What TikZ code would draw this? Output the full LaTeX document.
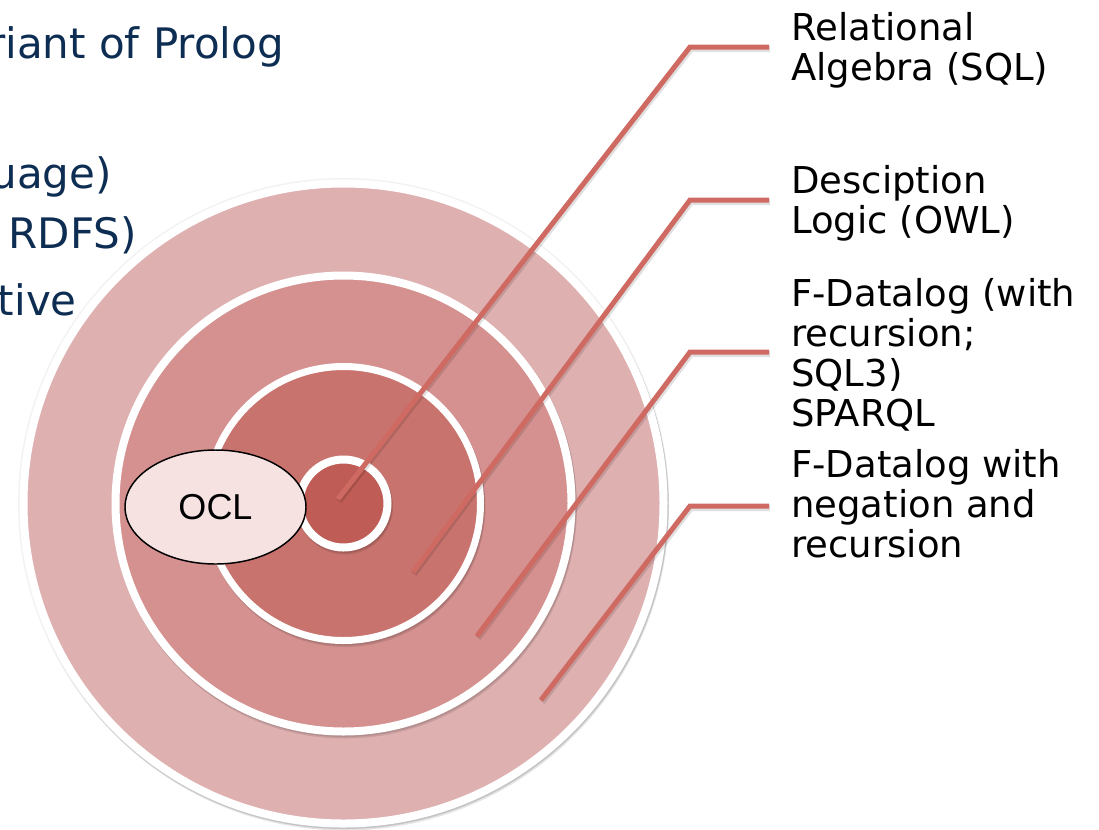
\documentclass[tikz,border=0pt]{standalone}
\usepackage{fontspec}
\setmainfont{DejaVu Sans}
\newfontfamily\arialf{Liberation Sans}
\definecolor{ringA}{HTML}{DFB0B0}
\definecolor{ringB}{HTML}{D4918F}
\definecolor{ringC}{HTML}{C9736E}
\definecolor{ringD}{HTML}{BF5C55}
\definecolor{leadc}{HTML}{CE6A62}
\definecolor{oclfill}{HTML}{F5E2E1}
\definecolor{navy}{HTML}{0E2D53}
\begin{document}
\begin{tikzpicture}[x=0.75pt,y=-0.75pt,
  ring/.style={draw=white, line width=6pt},
  ringshadow/.style={fill=black, fill opacity=0.10, draw=none},
  leader/.style={draw=leadc, line width=3.75pt},
  leadershadow/.style={draw=black, draw opacity=0.12, line width=4.5pt},
  lab/.style={anchor=base west, inner sep=0pt, font=\fontsize{27.75}{30}\selectfont, text=black},
  lefttext/.style={anchor=base east, inner sep=0pt, font=\fontsize{31.5}{36}\selectfont, text=navy},
  ocl/.style={ellipse, draw=black, line width=1.1pt, fill=oclfill, minimum width=135.75pt, minimum height=85.5pt, inner sep=0pt, font=\arialf\fontsize{27}{30}\selectfont}
]
\useasboundingbox (0,0) rectangle (1099,829);
\usetikzlibrary{shapes.geometric}
\coordinate (c) at (343.5,503.5);

% rings with soft shadows
\fill[fill=black, fill opacity=0.05] (c) circle[radius=325.5];
\fill[ringshadow] ([shift={(1.5,3)}]c) circle[radius=324];
\fill[ringshadow] ([shift={(1,1.5)}]c) circle[radius=324];
\draw[ring, fill=ringA] (c) circle[radius=320];
\fill[ringshadow] ([shift={(1.5,3)}]c) circle[radius=232];
\fill[ringshadow] ([shift={(1,1.5)}]c) circle[radius=232];
\draw[ring, fill=ringB] (c) circle[radius=228];
\fill[ringshadow] ([shift={(1.5,3)}]c) circle[radius=140.5];
\fill[ringshadow] ([shift={(1,1.5)}]c) circle[radius=140.5];
\draw[ring, line width=5.25pt, fill=ringC] (c) circle[radius=137];
\fill[ringshadow] ([shift={(1.5,3)}]c) circle[radius=48];
\fill[ringshadow] ([shift={(1,1.5)}]c) circle[radius=48];
\draw[ring, fill=ringD] (c) circle[radius=44];

% OCL ellipse
\node[ocl] (oclnode) at (215.5,507) {OCL};

% labels
\node[lab] (l1) at (791,40) {\vtop{\baselineskip=30pt\hbox{Relational}\hbox{Algebra (SQL)}}};
\node[lab] (l2) at (791,193) {\vtop{\baselineskip=30pt\hbox{Desciption}\hbox{Logic (OWL)}}};
\node[lab] (l3) at (791,306) {\vtop{\baselineskip=30pt\hbox{F-Datalog (with}\hbox{recursion;}\hbox{SQL3)}\hbox{SPARQL}}};
\node[lab] (l4) at (791,477) {\vtop{\baselineskip=30pt\hbox{F-Datalog with}\hbox{negation and}\hbox{recursion}}};

% leader end points
\coordinate (e1) at (338,499);
\coordinate (e2) at (413,572);
\coordinate (e3) at (477,636);
\coordinate (e4) at (541,700);

\foreach \l/\e/\dy in {l1/e1/7, l2/e2/7, l3/e3/46, l4/e4/29}{
  \draw[leadershadow] ([shift={(-22,\dy)}]\l.base west) ++(1,2) -- ++(-79,0) -- ([shift={(1,2)}]\e);
  \draw[leader] ([shift={(-22,\dy)}]\l.base west) -- ++(-79,0) -- (\e);
}

% cut-off slide text on the left
\node[lefttext] (t1) at (284,58) {riant of Prolog};
\node[lefttext] (t2) at (112,188) {uage)};
\node[lefttext] (t3) at (137,248) {RDFS)};
\node[lefttext] (t4) at (77,315) {tive};
\end{tikzpicture}
\end{document}
